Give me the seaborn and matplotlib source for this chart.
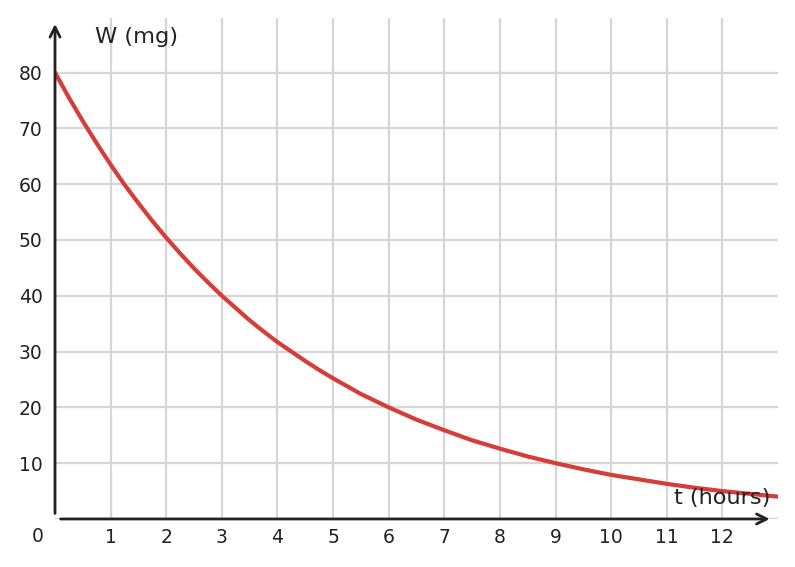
import matplotlib
matplotlib.use("Agg")
import matplotlib.pyplot as plt
import pandas as pd
import seaborn as sns

# values (quarter hours early on, half hours later)
hours = [0, 0.25, 0.5, 0.75, 1, 1.25, 1.5, 1.75, 2, 2.25, 2.5, 2.75, 3, 3.25,
         3.5, 3.75, 4, 4.25, 4.5, 4.75, 5, 5.25, 5.5, 5.75, 6, 6.5,
         7, 7.5, 8, 8.5, 9, 9.5, 10, 10.5, 11, 11.5, 12, 12.5, 13]
mass_mg = [80, 75.5, 71.3, 67.3, 63.5, 59.9, 56.6, 53.4, 50.4, 47.6, 44.9, 42.4,
           40, 37.8, 35.6, 33.6, 31.7, 30.0, 28.3, 26.7, 25.2, 23.8, 22.4, 21.2, 20,
           17.8, 15.9, 14.1, 12.6, 11.2, 10, 8.9, 7.9, 7.1, 6.3, 5.6, 5.0, 4.5, 4.0]
x_ticks = list(range(1, 13))
y_ticks = list(range(10, 90, 10))

TEXT = "#222222"
GRID = "#d6d6d6"
CURVE = "#d63c38"

sns.set_style("white")
plt.rcParams["font.family"] = ["DejaVu Sans"]

df = pd.DataFrame({"t": hours, "W": mass_mg})

fig = plt.figure(figsize=(7.95, 5.67), dpi=100)
ax = fig.add_axes([0.0692, 0.0847, 0.9094, 0.8833])

for x in x_ticks:
    ax.axvline(x, color=GRID, lw=1.6, zorder=0)
for y in [0] + y_ticks:
    ax.axhline(y, color=GRID, lw=1.6, zorder=0)

sns.lineplot(data=df, x="t", y="W", color=CURVE, lw=3, ax=ax, zorder=3)
ax.lines[-1].set_solid_joinstyle("round")

ax.set_xlim(0, 13)
ax.set_ylim(0, 89.75)
for s in ax.spines.values():
    s.set_visible(False)

ax.set_xticks(x_ticks)
ax.set_yticks(y_ticks)
ax.tick_params(axis="both", direction="in", length=4, width=2, color=TEXT,
               labelcolor=TEXT, labelsize=13.5)
ax.tick_params(axis="x", pad=6.5)
ax.tick_params(axis="y", pad=9)
ax.set_xlabel("")
ax.set_ylabel("")

# axis arrows
ax.annotate("", xy=(12.9, 0), xytext=(0.05, 0), annotation_clip=False,
            arrowprops=dict(arrowstyle="->", lw=2, color=TEXT, mutation_scale=18))
ax.annotate("", xy=(0, 89.2), xytext=(0, 0.5), annotation_clip=False,
            arrowprops=dict(arrowstyle="->", lw=2, color=TEXT, mutation_scale=18))

ax.text(-0.32, -3.2, "0", ha="center", va="center", fontsize=13.5, color=TEXT, clip_on=False)
ax.text(0.72, 86.4, "W (mg)", ha="left", va="center", fontsize=16.2, color=TEXT)
ax.text(12.86, 3.8, "t (hours)", ha="right", va="center", fontsize=16.2, color=TEXT)

fig.savefig("out.png", dpi=100)
